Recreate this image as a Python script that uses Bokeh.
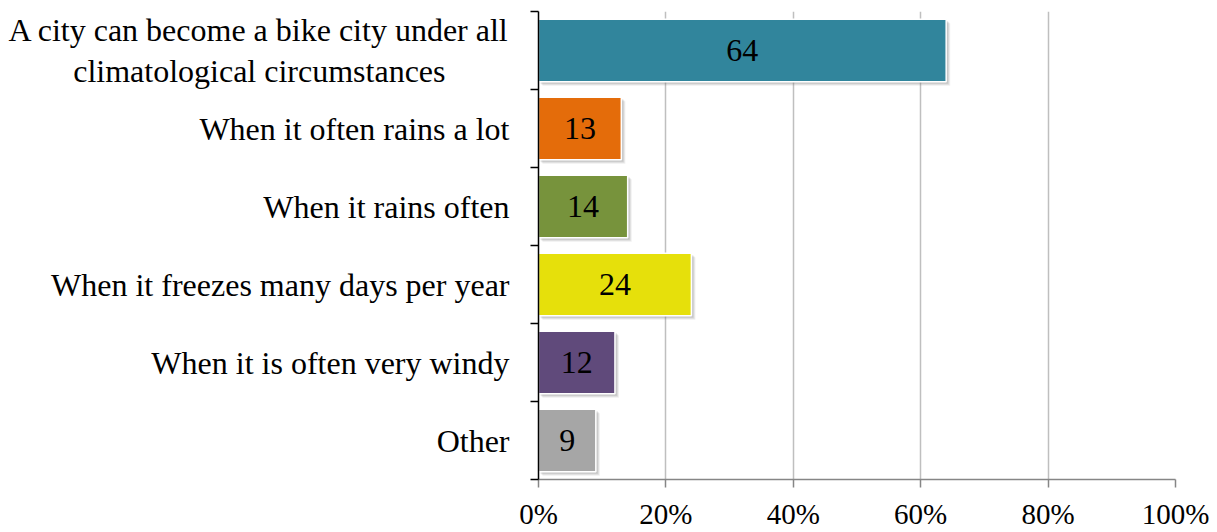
from bokeh.plotting import figure
from bokeh.models import ColumnDataSource, FixedTicker, Range1d
from bokeh.core.properties import value
from bokeh.embed import file_html
from bokeh.resources import INLINE

# Survey answers, top to bottom (the second line of the first answer is
# padded with no-break spaces so that it sits centred under the first line)
categories = [
    "A city can become a bike city under all\n"
    "climatological circumstances" + "\u00a0" * 8,
    "When it often rains a lot",
    "When it rains often",
    "When it freezes many days per year",
    "When it is often very windy",
    "Other",
]
shares = [64, 13, 14, 24, 12, 9]
colors = ["#31859C", "#E46C0A", "#77933C", "#E6E00B", "#604A7B", "#A6A6A6"]
x_ticks = [0, 20, 40, 60, 80, 100]
x_tick_labels = ["0%", "20%", "40%", "60%", "80%", "100%"]

FONT = "Liberation Serif"
LABEL_FS = "32px"
TICK_FS = "29px"

n = len(categories)
ypos = [n - i - 0.5 for i in range(n)]

src = ColumnDataSource(dict(
    cat=categories, val=shares, y=ypos, color=colors,
    mid=[v / 2 for v in shares], label=[str(v) for v in shares],
))

FRAME_W, FRAME_H = 637, 468
p = figure(
    frame_width=FRAME_W, frame_height=FRAME_H,
    min_border_left=538, min_border_right=42,
    min_border_top=11, min_border_bottom=53,
    x_range=Range1d(0, 100), y_range=Range1d(0, n),
    output_backend="svg", toolbar_location=None,
    background_fill_color="white", border_fill_color="white",
)
p.outline_line_color = None

# soft drop shadow to the lower right of each bar
px_x = 100 / FRAME_W
px_y = n / FRAME_H
shadow_layers = [(4, 0.12), (3, 0.18), (2, 0.22)]
for off, alpha in shadow_layers:
    p.hbar(y=[y - off * px_y for y in ypos], left=off * px_x,
           right=[v + off * px_x for v in shares], height=0.8,
           fill_color="#7F7F7F", fill_alpha=alpha, line_color=None)

p.hbar(y="y", left=0, right="val", height=0.8, fill_color="color",
       line_color="white", line_width=1.5, source=src)

p.text(x="mid", y="y", text="label", text_align="center",
       text_baseline="middle", text_font=value(FONT),
       text_font_size=LABEL_FS, text_color="black", source=src)

# x axis
xa = p.xaxis[0]
xa.ticker = FixedTicker(ticks=x_ticks)
xa.major_label_overrides = {t: l for t, l in zip(x_ticks, x_tick_labels)}
xa.axis_line_color = "#868686"
xa.axis_line_width = 1.5
xa.major_tick_line_color = "#868686"
xa.major_tick_line_width = 1.5
xa.major_tick_out = 8
xa.major_tick_in = 0
xa.minor_tick_line_color = None
xa.major_label_text_font = FONT
xa.major_label_text_font_size = TICK_FS
xa.major_label_text_color = "black"
xa.major_label_standoff = 10

# y axis: category names at bar centres, tick marks on category boundaries
ya = p.yaxis[0]
ya.ticker = FixedTicker(ticks=ypos, minor_ticks=list(range(n + 1)))
ya.major_label_overrides = {y: c for y, c in zip(ypos, categories)}
ya.major_label_text_font = FONT
ya.major_label_text_font_size = LABEL_FS
ya.major_label_text_color = "black"
ya.major_label_text_line_height = 1.15
ya.major_label_standoff = 21
ya.major_tick_line_color = None
ya.major_tick_out = 0
ya.major_tick_in = 0
ya.axis_line_color = "black"
ya.axis_line_width = 1.5
ya.minor_tick_line_color = "black"
ya.minor_tick_line_width = 1.5
ya.minor_tick_out = 8
ya.minor_tick_in = 0

p.xgrid.ticker = FixedTicker(ticks=x_ticks[1:])
p.xgrid.grid_line_color = "#BFBFBF"
p.xgrid.grid_line_width = 1.5
p.ygrid.grid_line_color = None

open("out.html", "w").write(file_html(p, INLINE))
